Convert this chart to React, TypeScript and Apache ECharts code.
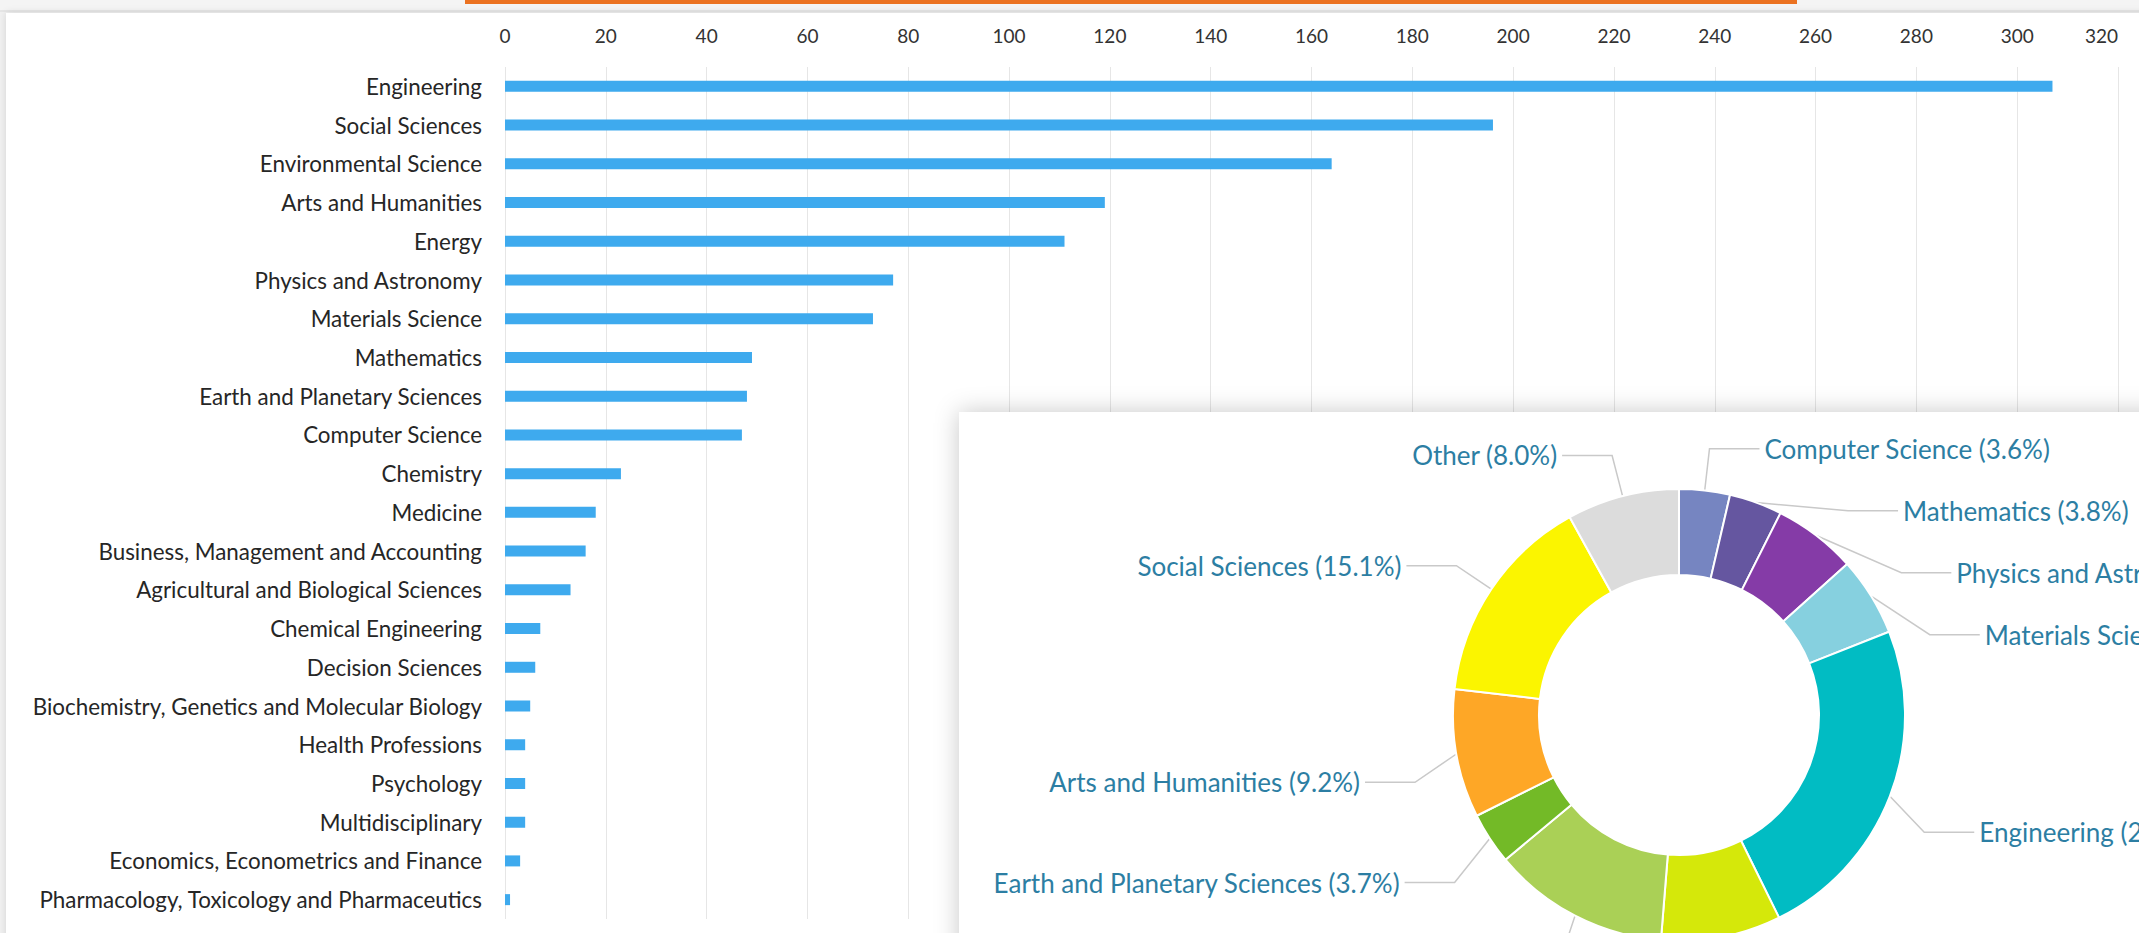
import React, { useEffect, useRef } from 'react';
import * as echarts from 'echarts';

const categories = [
  'Engineering',
  'Social Sciences',
  'Environmental Science',
  'Arts and Humanities',
  'Energy',
  'Physics and Astronomy',
  'Materials Science',
  'Mathematics',
  'Earth and Planetary Sciences',
  'Computer Science',
  'Chemistry',
  'Medicine',
  'Business, Management and Accounting',
  'Agricultural and Biological Sciences',
  'Chemical Engineering',
  'Decision Sciences',
  'Biochemistry, Genetics and Molecular Biology',
  'Health Professions',
  'Psychology',
  'Multidisciplinary',
  'Economics, Econometrics and Finance',
  'Pharmacology, Toxicology and Pharmaceutics',
];
const counts = [307, 196, 164, 119, 111, 77, 73, 49, 48, 47, 23, 18, 16, 13, 7, 6, 5, 4, 4, 4, 3, 1];

const xMin = 0;
const xMax = 320;
const xStep = 20;

const pieGroups = [
  'Computer Science',
  'Mathematics',
  'Physics and Astronomy',
  'Materials Science',
  'Engineering',
  'Energy',
  'Environmental Science',
  'Earth and Planetary Sciences',
  'Arts and Humanities',
  'Social Sciences',
];
const pieColors = [
  '#7685c1',
  '#6556a0',
  '#853ba7',
  '#86d0df',
  '#01bcc3',
  '#d5e80a',
  '#aad056',
  '#73ba27',
  '#fea726',
  '#fbf500',
];
const otherName = 'Other';
const otherColor = '#dcdcdc';

const FONT = "Lato, 'Noto Sans', sans-serif";
const PIE_CENTER = [1679, 715];
const LOWER_LABEL_SHIFT = 21;

export default function App() {
  const ref = useRef<HTMLDivElement>(null);

  useEffect(() => {
    document.body.style.margin = '0';
    const chart = echarts.init(ref.current!, null, { renderer: 'svg' });

    const pieData = pieGroups.map((name, i) => ({
      name,
      value: counts[categories.indexOf(name)],
      itemStyle: { color: pieColors[i] },
    }));
    const otherValue = categories
      .filter((c) => pieGroups.indexOf(c) < 0)
      .reduce((s, c) => s + counts[categories.indexOf(c)], 0);
    pieData.push({ name: otherName, value: otherValue, itemStyle: { color: otherColor } });
    const total = pieData.reduce((s, d) => s + d.value, 0);

    chart.setOption({
      animation: false,
      backgroundColor: 'transparent',
      textStyle: { fontFamily: FONT },
      graphic: [
        {
          type: 'rect',
          z: 50,
          shape: { x: 959, y: 412, width: 1600, height: 900 },
          style: { fill: '#ffffff', shadowBlur: 24, shadowColor: 'rgba(0,0,0,0.22)' },
        },
      ],
      grid: { left: 505, top: 67, width: 1613, height: 852 },
      xAxis: {
        type: 'value',
        position: 'top',
        min: xMin,
        max: xMax,
        interval: xStep,
        axisLine: { show: false },
        axisTick: { show: false },
        splitLine: { show: true, lineStyle: { color: '#e6e6e6', width: 1 } },
        axisLabel: {
          fontSize: 19,
          color: '#333333',
          fontFamily: FONT,
          margin: 22,
          alignMaxLabel: 'right',
        },
      },
      yAxis: {
        type: 'category',
        inverse: true,
        data: categories,
        axisLine: { show: false },
        axisTick: { show: false },
        splitLine: { show: false },
        axisLabel: { fontSize: 22.4, color: '#262626', fontFamily: FONT, margin: 23 },
      },
      series: [
        {
          type: 'bar',
          data: counts,
          barWidth: 11,
          itemStyle: { color: '#3eaaee' },
          z: 2,
        },
        {
          type: 'pie',
          z: 60,
          center: PIE_CENTER,
          radius: [140, 226],
          startAngle: 90,
          clockwise: true,
          avoidLabelOverlap: true,
          data: pieData,
          itemStyle: { borderColor: '#ffffff', borderWidth: 2 },
          label: {
            show: true,
            position: 'outside',
            fontSize: 26,
            lineHeight: 60,
            fontFamily: FONT,
            color: '#2c7ea3',
            formatter: (p: any) => `${p.name} (${((p.value / total) * 100).toFixed(1)}%)`,
          },
          labelLine: {
            show: true,
            length: 42,
            length2: 50,
            lineStyle: { color: '#c9c9c9', width: 1.5 },
          },
          labelLayout: (p: any) => {
            const r = p.labelRect;
            const cy = r.y + r.height / 2;
            if (cy <= PIE_CENTER[1] || !p.labelLinePoints) return {};
            const pts = p.labelLinePoints;
            const s = LOWER_LABEL_SHIFT;
            return {
              y: cy + s,
              labelLinePoints: [
                [pts[0][0], pts[0][1]],
                [pts[1][0], pts[1][1] + s],
                [pts[2][0], pts[2][1] + s],
              ],
            };
          },
        },
      ],
    });

    return () => chart.dispose();
  }, []);

  return (
    <div
      style={{
        position: 'fixed',
        left: 0,
        top: 0,
        width: 2139,
        height: 933,
        overflow: 'hidden',
        background: '#f1f1f1',
      }}
    >
      <div
        style={{
          position: 'absolute',
          left: 0,
          top: 0,
          width: 2139,
          height: 10,
          background: '#f4f4f4',
          borderBottom: '2px solid #e6e6e6',
        }}
      />
      <div style={{ position: 'absolute', left: 465, top: 0, width: 1332, height: 4, background: '#eb7221' }} />
      <div
        style={{
          position: 'absolute',
          left: 6,
          top: 13,
          width: 2300,
          height: 1100,
          background: '#ffffff',
          boxShadow: '0 0 8px rgba(0,0,0,0.12)',
        }}
      />
      <div ref={ref} style={{ position: 'absolute', left: 0, top: 0, width: 2400, height: 1150 }} />
    </div>
  );
}
